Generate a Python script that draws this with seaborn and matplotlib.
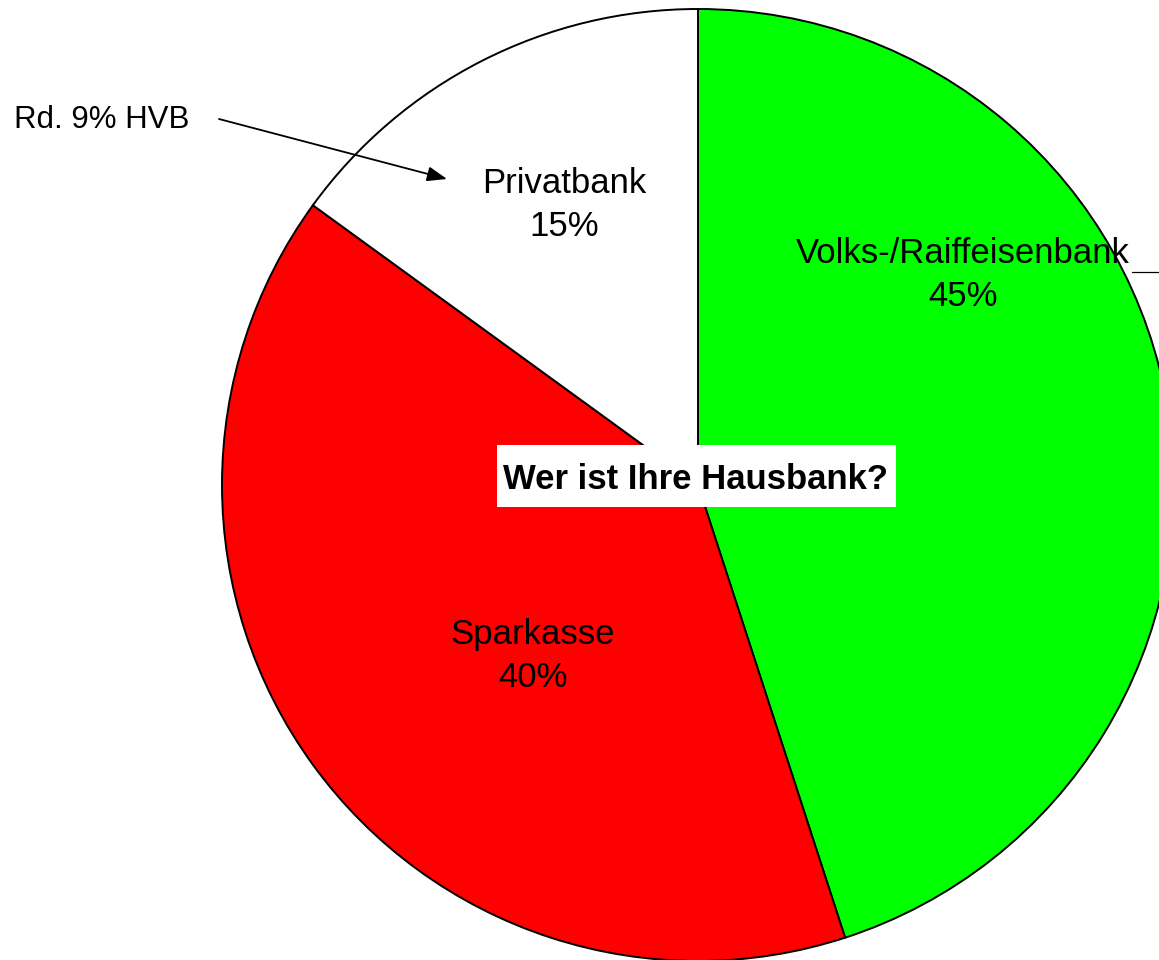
"""Pie chart: Wer ist Ihre Hausbank?"""

import matplotlib.pyplot as plt
import seaborn as sns
from matplotlib.patches import Rectangle

BANKS = ["Volks-/Raiffeisenbank", "Sparkasse", "Privatbank"]
SHARES = [45, 40, 15]
COLORS = ["#00ff00", "#ff0000", "#ffffff"]
TITLE = "Wer ist Ihre Hausbank?"
NOTE = "Rd. 9% HVB"

# layout in pixel space (origin bottom-left)
W, H = 1159, 960
CENTER = (698, H - 485)
RADIUS = 476
LABEL_POS = [(963, H - 275), (533, H - 656), (564, H - 205)]
TITLE_BOX = (497, H - 507, 399, 62)
NOTE_POS = (14, H - 120)
ARROW_FROM = (219, H - 119)
ARROW_TO = (447, H - 179)


def main() -> None:
    sns.set_theme(style="white")
    plt.rcParams["font.family"] = ["Liberation Sans", "DejaVu Sans"]

    fig = plt.figure(figsize=(W / 100, H / 100), dpi=100)
    ax = fig.add_axes([0, 0, 1, 1])

    ax.pie(
        SHARES,
        colors=COLORS,
        startangle=90,
        counterclock=False,
        center=CENTER,
        radius=RADIUS,
        wedgeprops={"edgecolor": "black", "linewidth": 1.4},
        frame=True,
    )
    ax.set_xlim(0, W)
    ax.set_ylim(0, H)
    ax.set_aspect("auto")
    ax.axis("off")

    for bank, share, (x, y) in zip(BANKS, SHARES, LABEL_POS):
        ax.text(x, y, f"{bank}\n{share}%", ha="center", va="center",
                fontsize=25, linespacing=1.42, color="black")

    bx, by, bw, bh = TITLE_BOX
    ax.add_patch(Rectangle((bx, by), bw, bh, facecolor="white",
                           edgecolor="none", zorder=3))
    ax.text(bx + bw / 2 - 1, by + bh / 2, TITLE, ha="center", va="center_baseline",
            fontsize=25, fontweight="bold", color="black", zorder=4)

    ax.text(*NOTE_POS, NOTE, ha="left", va="center", fontsize=22.5, color="black")
    ax.annotate("", xy=ARROW_TO, xytext=ARROW_FROM,
                arrowprops={"arrowstyle": "-|>,head_length=0.8,head_width=0.3",
                            "mutation_scale": 15,
                            "color": "black", "lw": 1.3,
                            "shrinkA": 0, "shrinkB": 0})
    # stray leader line at the right edge
    ax.plot([1132, W], [H - 272, H - 272], color="black", lw=0.9)

    fig.savefig("out.png", dpi=100)
    plt.close(fig)


if __name__ == "__main__":
    main()
